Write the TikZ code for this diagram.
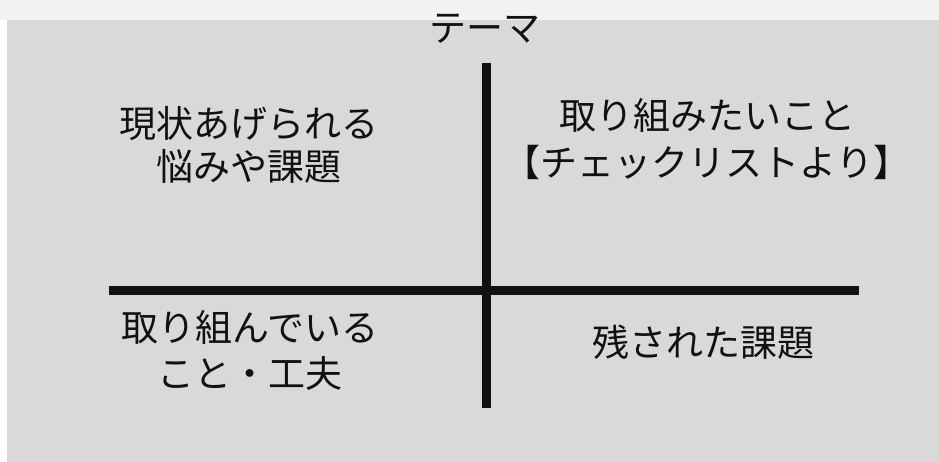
\documentclass[tikz,border=0pt]{standalone}
\usepackage{fontspec}
\newfontfamily\jpfont{Noto Sans CJK JP}
\definecolor{panel}{HTML}{D9D9D9}
\definecolor{topband}{HTML}{F2F2F2}
\definecolor{ink}{HTML}{111111}
\begin{document}
\begin{tikzpicture}[x=1pt,y=-1pt,
  lbl/.style={text=ink,inner sep=0pt,font=\jpfont\fontsize{37}{44}\selectfont,
    text height=0.88em,text depth=0.12em,anchor=center},
  axis/.style={draw=ink,line width=9pt}]
\useasboundingbox (0,0) rectangle (939,462);
\fill[white] (0,0) rectangle (939,462);
\fill[topband] (0,0) rectangle (939,20);
\fill[panel] (7,20) rectangle (939,462);
% axes
\coordinate (vtop) at (486,63);
\coordinate (vbot) at (486,408);
\coordinate (hl) at (109,290.5);
\coordinate (hr) at (859,290.5);
\draw[axis] (vtop) -- (vbot);
\draw[axis] (hl) -- (hr);
% labels
\node[lbl] (theme) at (485,38) {テーマ};
\node[lbl] (tl1) at (249,134) {現状あげられる};
\node[lbl] (tl2) at (249,177) {悩みや課題};
\node[lbl] (tr1) at (707,126) {取り組みたいこと};
\node[lbl] (tr2) at (707,173) {【チェックリストより】};
\node[lbl] (bl1) at (250,338) {取り組んでいる};
\node[lbl] (bl2) at (250,384) {こと・工夫};
\node[lbl] (br) at (703,353) {残された課題};
\end{tikzpicture}
\end{document}
